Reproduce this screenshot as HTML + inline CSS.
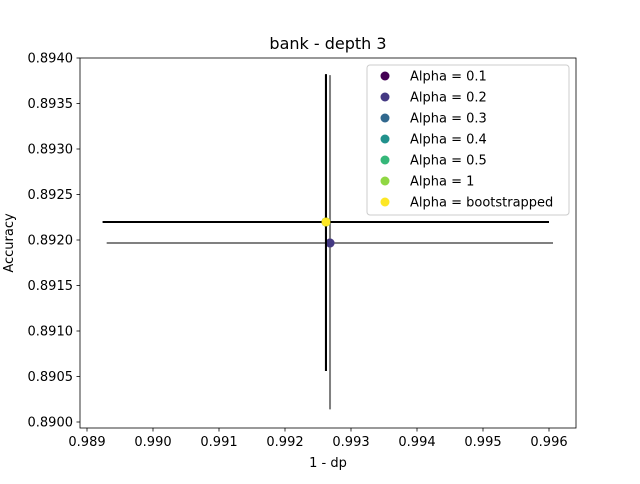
<!DOCTYPE html>
<html><head><meta charset="utf-8"><style>
body{margin:0;background:#fff;font-family:"DejaVu Sans","Liberation Sans",sans-serif}
</style></head><body>
<svg id="c" width="640" height="480" xmlns="http://www.w3.org/2000/svg" font-family="DejaVu Sans, Liberation Sans, sans-serif"></svg>
<script>
const labels=["Alpha = 0.1","Alpha = 0.2","Alpha = 0.3","Alpha = 0.4","Alpha = 0.5","Alpha = 1","Alpha = bootstrapped"];
const colors=["#440154","#443983","#31688e","#21918c","#35b779","#90d743","#fde725"];
const xs=[0.992682,0.992682,0.992621,0.992621,0.992621,0.992621,0.992621];
const ys=[0.891967,0.891967,0.892198,0.892198,0.892198,0.892198,0.892198];
const xlo=[0.98930,0.98930,0.98924,0.98924,0.98924,0.98924,0.98924];
const xhi=[0.99606,0.99606,0.99600,0.99600,0.99600,0.99600,0.99600];
const ylo=[0.89014,0.89014,0.89056,0.89056,0.89056,0.89056,0.89056];
const yhi=[0.89381,0.89381,0.89382,0.89382,0.89382,0.89382,0.89382];
const ecol=["gray","gray","black","black","black","black","black"];
const xticks=[0.989,0.990,0.991,0.992,0.993,0.994,0.995,0.996];
const yticks=[0.8900,0.8905,0.8910,0.8915,0.8920,0.8925,0.8930,0.8935,0.8940];
const L=80,R=576,T=58,B=428;
const X=v=>87+(v-0.989)*66000;
const Y=v=>422-(v-0.8900)*91000;
const s=document.getElementById('c');const NS="http://www.w3.org/2000/svg";
function mk(t,a,txt){const e=document.createElementNS(NS,t);for(const k in a)e.setAttribute(k,a[k]);if(txt!=null)e.textContent=txt;s.appendChild(e);return e;}
let e;
e=mk('rect',{x:L,y:T,width:R-L,height:B-T,fill:'none',stroke:'#000','stroke-width':0.8});

xticks.forEach(v=>{const x=X(v);
e=mk('line',{x1:x,x2:x,y1:B,y2:B+3.5,stroke:'#000','stroke-width':0.8});
e=mk('text',{x:x,y:B+18,'text-anchor':'middle','font-size':13},v.toFixed(3));});
yticks.forEach(v=>{const y=Y(v);
e=mk('line',{x1:L-3.5,x2:L,y1:y,y2:y,stroke:'#000','stroke-width':0.8});
e=mk('text',{x:L-7,y:y+4.5,'text-anchor':'end','font-size':13},v.toFixed(4));});
e=mk('text',{x:328,y:49,'text-anchor':'middle','font-size':16},'bank - depth 3');
e=mk('text',{x:328,y:467,'text-anchor':'middle','font-size':13},'1 - dp');
e=mk('text',{x:0,y:0,'text-anchor':'middle','font-size':13,transform:'translate(13,243) rotate(-90)'},'Accuracy');
for(let i=0;i<labels.length;i++){
e=mk('line',{x1:X(xlo[i]),x2:X(xhi[i]),y1:Y(ys[i]),y2:Y(ys[i]),stroke:ecol[i],'stroke-width':2});
e=mk('line',{x1:X(xs[i]),x2:X(xs[i]),y1:Y(ylo[i]),y2:Y(yhi[i]),stroke:ecol[i],'stroke-width':2});
e=mk('circle',{cx:X(xs[i]),cy:Y(ys[i]),r:4.5,fill:colors[i]});}
e=mk('rect',{x:367,y:65,width:202,height:150,rx:3,fill:'#fff','fill-opacity':0.8,stroke:'#ccc'});
labels.forEach((l,i)=>{const y=76+i*21;
e=mk('circle',{cx:385,cy:y,r:4.5,fill:colors[i]});
e=mk('text',{x:410,y:y+4.5,'font-size':13},l);});
</script>
</body></html>
